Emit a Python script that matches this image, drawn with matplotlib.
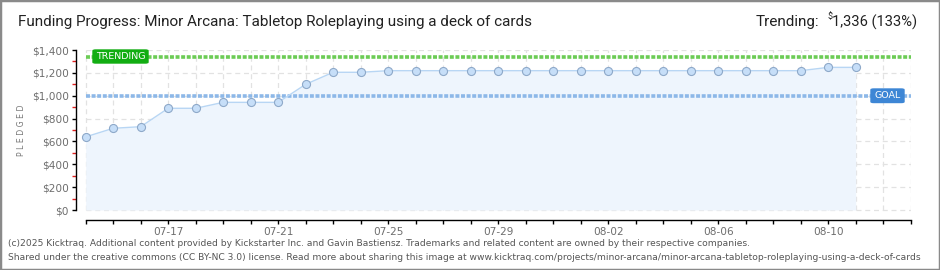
import matplotlib

matplotlib.use("Agg")
import matplotlib.pyplot as plt
import pandas as pd
from matplotlib.patches import FancyBboxPatch, Rectangle
from matplotlib.ticker import FixedLocator

# ---- data ----
dates = [
    "2025-07-14", "2025-07-15", "2025-07-16", "2025-07-17", "2025-07-18",
    "2025-07-19", "2025-07-20", "2025-07-21", "2025-07-22", "2025-07-23",
    "2025-07-24", "2025-07-25", "2025-07-26", "2025-07-27", "2025-07-28",
    "2025-07-29", "2025-07-30", "2025-07-31", "2025-08-01", "2025-08-02",
    "2025-08-03", "2025-08-04", "2025-08-05", "2025-08-06", "2025-08-07",
    "2025-08-08", "2025-08-09", "2025-08-10", "2025-08-11",
]
pledged = [
    640, 715, 729, 890, 890, 942, 942, 942, 1100, 1205,
    1205, 1219, 1219, 1219, 1219, 1219, 1219, 1219, 1219, 1219,
    1219, 1219, 1219, 1219, 1219, 1219, 1219, 1248, 1248,
]
axis_start, axis_end = "2025-07-14", "2025-08-13"
goal = 1000
trending = 1336
trending_pct = 133
y_ticks = [0, 200, 400, 600, 800, 1000, 1200, 1400]

title = "Funding Progress: Minor Arcana: Tabletop Roleplaying using a deck of cards"
footer = [
    "(c)2025 Kicktraq. Additional content provided by Kickstarter Inc. and Gavin Bastiensz. "
    "Trademarks and related content are owned by their respective companies.",
    "Shared under the creative commons (CC BY-NC 3.0) license. Read more about sharing this "
    "image at www.kicktraq.com/projects/minor-arcana/minor-arcana-tabletop-roleplaying-using-a-deck-of-cards",
]

W, H = 940, 270
GREY = "#6e6e6e"


def fx(px):
    return px / W


def fy(py):
    return 1 - py / H


days = pd.date_range(axis_start, axis_end)
t0 = days[0]
x_days = [(d - t0).days for d in days]
x_pts = [(pd.Timestamp(d) - t0).days for d in dates]
n_days = x_days[-1]

fig = plt.figure(figsize=(W / 100, H / 100), dpi=100)
fig.patch.set_facecolor("white")
fig.patches.append(
    Rectangle((0, 0), 1, 1, transform=fig.transFigure, fill=False,
              edgecolor="#8a8a8a", linewidth=2.5)
)

# plot area in pixels: y axis line x=76, last day x=910.7, $1,400 at y=50, $0 at y=210, x axis y=220
left_px, right_px, top_px, bot_px = 76, 910.7, 50, 220
ax = fig.add_axes([fx(left_px), fy(bot_px), fx(right_px - left_px), (bot_px - top_px) / H])
px_per_day = 27.5
ax.set_xlim(-(85.7 - left_px) / px_per_day, n_days)
ax.set_ylim(-10 * 1400 / 160, 1400)

for s in ("top", "right"):
    ax.spines[s].set_visible(False)
ax.spines["left"].set_bounds(0, 1400)
ax.spines["bottom"].set_bounds(0, n_days)
ax.spines["left"].set_linewidth(1.0)
ax.spines["bottom"].set_linewidth(1.0)

# grid drawn manually so it stays inside the data box
ax.hlines(y_ticks, 0, n_days, colors="#e2e2e2", linestyles=(0, (4, 3)), linewidth=0.9, zorder=0)
ax.vlines(x_days, 0, 1400, colors="#e2e2e2", linestyles=(0, (4, 3)), linewidth=0.9, zorder=0)

ax.fill_between(x_pts, pledged, 0, color="#eef5fd", zorder=1, linewidth=0)
ax.plot(x_pts, pledged, color="#b8d6f4", linewidth=1.0, zorder=3,
        marker="o", markersize=5.8, markerfacecolor="#c6def8",
        markeredgecolor="#8ea9c9", markeredgewidth=0.8)

ax.hlines(trending, 0, n_days, colors="#6ccc55", linestyles=(0, (1.1, 0.45)), linewidth=2.6, zorder=2)
ax.hlines(goal, 0, n_days, colors="#8db8e8", linestyles=(0, (1.1, 0.45)), linewidth=2.6, zorder=2)

# ticks
ax.yaxis.set_major_locator(FixedLocator(y_ticks))
ax.yaxis.set_minor_locator(FixedLocator([v + 100 for v in y_ticks[:-1]]))
ax.set_yticklabels([f"${v:,}" for v in y_ticks])
ax.tick_params(axis="y", which="major", direction="out", length=3, width=1.0,
               color="black", pad=2, labelsize=7.6, labelcolor=GREY)
ax.tick_params(axis="y", which="minor", direction="out", length=3, width=1.0, color="#e02020")
ax.xaxis.set_major_locator(FixedLocator(x_days))
ax.set_xticklabels([d.strftime("%m-%d") if (i - 3) % 4 == 0 else "" for i, d in enumerate(days)])
ax.tick_params(axis="x", direction="out", length=3, width=1.0, color="black",
               pad=2, labelsize=7.6, labelcolor=GREY)

fig.text(fx(22), fy(130), "P L E D G E D", rotation=90, ha="center", va="center",
         fontsize=5.6, color="#777777")

# label boxes
def tag(x0, y0, x1, y1, text, color):
    fig.patches.append(
        FancyBboxPatch((fx(x0), fy(y1)), fx(x1 - x0), (y1 - y0) / H,
                       boxstyle="round,pad=0,rounding_size=0.003",
                       transform=fig.transFigure, facecolor=color, edgecolor=color, zorder=5)
    )
    fig.text(fx((x0 + x1) / 2), fy((y0 + y1) / 2), text, ha="center", va="center",
             color="white", fontsize=6.8, zorder=6)


tag(93, 50, 148, 63, "TRENDING", "#12ad12")
tag(871, 89, 904, 102.5, "GOAL", "#3d86d5")

# header
title_font = ["Roboto", "DejaVu Sans"]
fig.text(fx(18), fy(22), title, ha="left", va="center", fontsize=11,
         color="#222222", family=title_font)
fig.text(fx(917), fy(22), f"{trending:,} ({trending_pct}%)", ha="right", va="center",
         fontsize=10.5, color="#222222", family=title_font)
fig.text(fx(833), fy(17), "$", ha="right", va="center", fontsize=6.5,
         color="#222222", family=title_font)
fig.text(fx(819), fy(22), "Trending:", ha="right", va="center", fontsize=11,
         color="#222222", family=title_font)

for i, line in enumerate(footer):
    fig.text(fx(8), fy(243 + 14 * i), line, ha="left", va="center",
             fontsize=6.6, color="#555555")

fig.savefig("out.png", dpi=100)
